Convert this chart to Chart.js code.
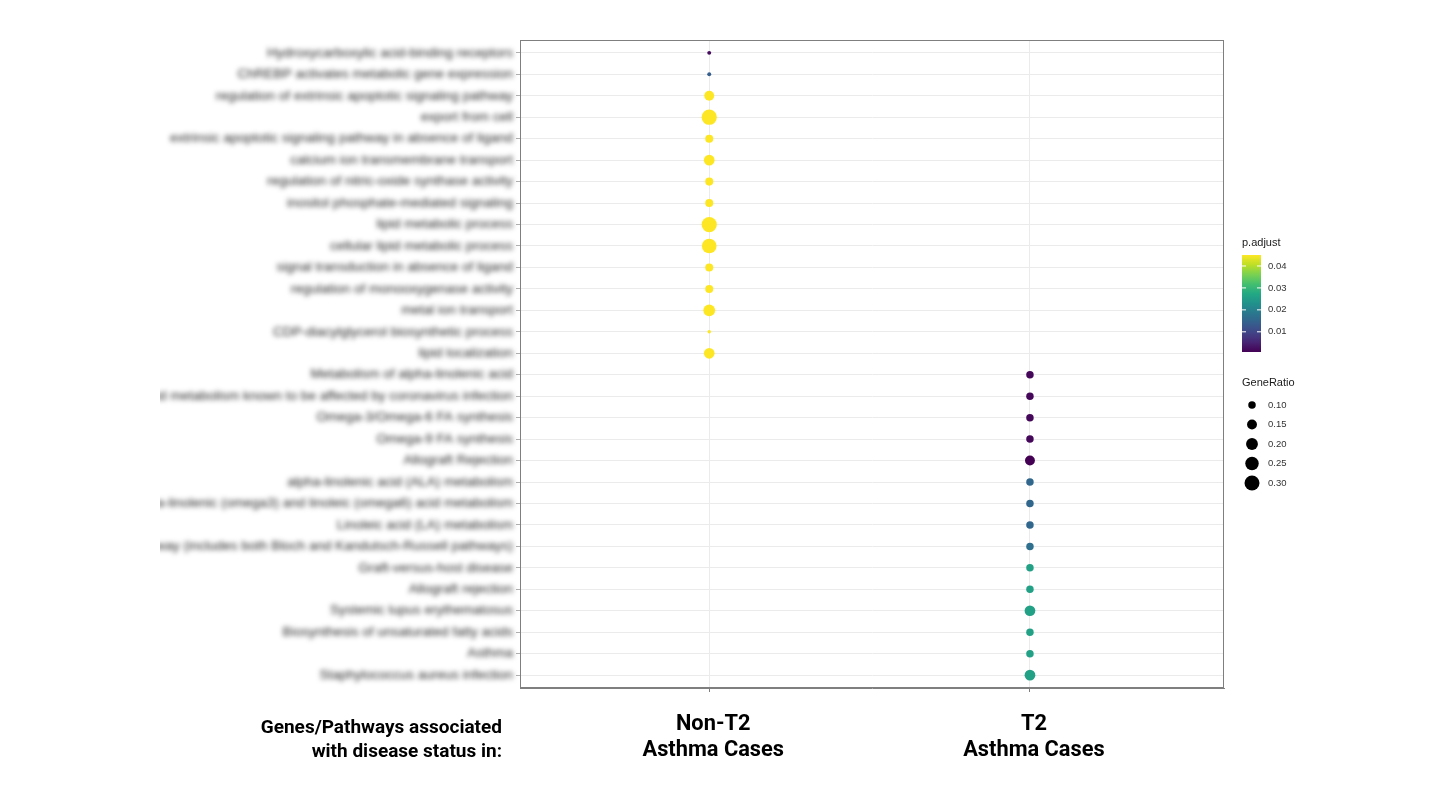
<!DOCTYPE html>
<html>
<head>
<meta charset="utf-8">
<script src="https://cdn.jsdelivr.net/npm/chart.js@4.4.1/dist/chart.umd.min.js"></script>
<style>
  html, body { margin: 0; padding: 0; background: #fff; overflow: hidden; }
  #wrap { position: absolute; left: 160px; top: 0; width: 1280px; height: 810px; }
</style>
</head>
<body>
<div id="wrap"><canvas id="dotChart"></canvas></div>
<script>
// pathways, top to bottom
const nonT2Terms = [
    'Hydroxycarboxylic acid-binding receptors',
    'ChREBP activates metabolic gene expression',
    'regulation of extrinsic apoptotic signaling pathway',
    'export from cell',
    'extrinsic apoptotic signaling pathway in absence of ligand',
    'calcium ion transmembrane transport',
    'regulation of nitric-oxide synthase activity',
    'inositol phosphate-mediated signaling',
    'lipid metabolic process',
    'cellular lipid metabolic process',
    'signal transduction in absence of ligand',
    'regulation of monooxygenase activity',
    'metal ion transport',
    'CDP-diacylglycerol biosynthetic process',
    'lipid localization'
];
const t2Terms = [
    'Metabolism of alpha-linolenic acid',
    'Lipid metabolism known to be affected by coronavirus infection',
    'Omega-3/Omega-6 FA synthesis',
    'Omega-9 FA synthesis',
    'Allograft Rejection',
    'alpha-linolenic acid (ALA) metabolism',
    'alpha-linolenic (omega3) and linoleic (omega6) acid metabolism',
    'Linoleic acid (LA) metabolism',
    'Cholesterol biosynthesis pathway (includes both Bloch and Kandutsch-Russell pathways)',
    'Graft-versus-host disease',
    'Allograft rejection',
    'Systemic lupus erythematosus',
    'Biosynthesis of unsaturated fatty acids',
    'Asthma',
    'Staphylococcus aureus infection'
];
const groups = [['Non-T2', 'Asthma Cases'], ['T2', 'Asthma Cases']];

const nonT2GeneRatio = [0.052, 0.052, 0.15, 0.31, 0.11, 0.17, 0.11, 0.11, 0.31, 0.29, 0.11, 0.11, 0.2, 0.048, 0.17];
const t2GeneRatio = [0.1, 0.1, 0.1, 0.1, 0.15, 0.1, 0.1, 0.1, 0.1, 0.1, 0.1, 0.17, 0.1, 0.1, 0.17];

const nonT2Padj = [0.002, 0.014, 0.045, 0.045, 0.045, 0.045, 0.045, 0.045, 0.045, 0.045, 0.045, 0.045, 0.045, 0.045, 0.045];
const t2Padj = [0.0015, 0.0015, 0.0015, 0.0015, 0.0008, 0.0155, 0.0155, 0.0155, 0.017, 0.026, 0.026, 0.026, 0.026, 0.026, 0.026];

const padjTicks = [0.01, 0.02, 0.03, 0.04];
const ratioTicks = [0.10, 0.15, 0.20, 0.25, 0.30];

const terms = nonT2Terms.concat(t2Terms);
const allPadj = nonT2Padj.concat(t2Padj);
const pMin = Math.min(...allPadj);
const pMax = Math.max(...allPadj);

const viridis = ['#440154', '#482475', '#414487', '#355f8d', '#2a788e', '#21918c',
    '#22a884', '#44bf70', '#7ad151', '#bddf26', '#fde725'];

function hexRgb(h) {
    return [parseInt(h.slice(1, 3), 16), parseInt(h.slice(3, 5), 16), parseInt(h.slice(5, 7), 16)];
}
function padjColor(p) {
    let t = (p - pMin) / (pMax - pMin);
    t = Math.max(0, Math.min(1, t)) * 10;
    const i = Math.min(9, Math.floor(t));
    const f = t - i;
    const a = hexRgb(viridis[i]), b = hexRgb(viridis[i + 1]);
    const c = a.map((v, k) => Math.round(v + (b[k] - v) * f));
    return 'rgb(' + c.join(',') + ')';
}
// size scale (area based, like ggplot)
function ratioRadius(v) {
    return Math.sqrt(Math.max(0.3, 210 * v - 7));
}

// y labels are blurred in the figure
class BlurLinearScale extends Chart.LinearScale {
    drawLabels(area) {
        const ctx = this.ctx;
        ctx.save();
        ctx.filter = 'blur(2.4px)';
        super.drawLabels(area);
        ctx.restore();
    }
}
BlurLinearScale.id = 'blurLinear';
BlurLinearScale.defaults = Chart.LinearScale.defaults;
Chart.register(BlurLinearScale);

const OFF = 160; // canvas offset on page

const extras = {
    id: 'extras',
    afterDraw(chart) {
        const ctx = chart.ctx;
        const a = chart.chartArea;
        ctx.save();
        // panel border
        ctx.strokeStyle = '#7f7f7f';
        ctx.lineWidth = 1;
        ctx.strokeRect(a.left + 0.5, a.top + 0.5, a.right - a.left - 1, a.bottom - a.top - 1);

        // left caption
        ctx.fillStyle = '#000';
        ctx.font = 'bold 19px Roboto';
        ctx.textAlign = 'right';
        ctx.textBaseline = 'middle';
        ctx.fillText('Genes/Pathways associated', 502 - OFF, 728);
        ctx.fillText('with disease status in:', 502 - OFF, 752);

        // colour bar legend
        const lx = 1242 - OFF;
        ctx.textAlign = 'left';
        ctx.fillStyle = '#1a1a1a';
        ctx.font = '11px "Liberation Sans"';
        ctx.fillText('p.adjust', lx, 243);
        const top = 255, bot = 352, w = 19;
        const g = ctx.createLinearGradient(0, bot, 0, top);
        viridis.forEach((c, i) => g.addColorStop(i / 10, c));
        ctx.fillStyle = g;
        ctx.fillRect(lx, top, w, bot - top);
        ctx.font = '9.5px "Liberation Sans"';
        padjTicks.forEach(p => {
            const y = bot - (p - pMin) / (pMax - pMin) * (bot - top);
            ctx.strokeStyle = '#fff';
            ctx.beginPath();
            ctx.moveTo(lx, y); ctx.lineTo(lx + 4, y);
            ctx.moveTo(lx + w - 4, y); ctx.lineTo(lx + w, y);
            ctx.stroke();
            ctx.fillStyle = '#333';
            ctx.fillText(p.toFixed(2), 1268 - OFF, y);
        });

        // size legend
        ctx.fillStyle = '#1a1a1a';
        ctx.font = '11px "Liberation Sans"';
        ctx.fillText('GeneRatio', lx, 383);
        ctx.font = '9.5px "Liberation Sans"';
        ratioTicks.forEach((v, i) => {
            const y = 405 + i * 19.5;
            ctx.fillStyle = '#000';
            ctx.beginPath();
            ctx.arc(1252 - OFF, y, ratioRadius(v), 0, Math.PI * 2);
            ctx.fill();
            ctx.fillStyle = '#333';
            ctx.fillText(v.toFixed(2), 1268 - OFF, y);
        });
        ctx.restore();
    }
};

function makeData(ratios, padj, groupIdx, offset) {
    return ratios.map((r, i) => ({ x: groupIdx + 1, y: offset + i + 1, r: r, p: padj[i] }));
}

new Chart(document.getElementById('dotChart'), {
    type: 'scatter',
    data: {
        datasets: [
            { label: 'Non-T2', data: makeData(nonT2GeneRatio, nonT2Padj, 0, 0) },
            { label: 'T2', data: makeData(t2GeneRatio, t2Padj, 1, nonT2Terms.length) }
        ]
    },
    options: {
        responsive: true,
        maintainAspectRatio: false,
        animation: false,
        layout: { padding: { top: 40, right: 216, left: 0, bottom: 0 } },
        elements: {
            point: {
                radius: c => ratioRadius(c.raw.r),
                backgroundColor: c => padjColor(c.raw.p),
                borderWidth: 0,
                hoverRadius: c => ratioRadius(c.raw.r)
            }
        },
        plugins: { legend: { display: false }, tooltip: { enabled: false } },
        scales: {
            x: {
                type: 'linear',
                min: 0.41,
                max: 2.605,
                afterBuildTicks: s => { s.ticks = groups.map((g, i) => ({ value: i + 1 })); },
                afterFit: s => { s.height = 122; },
                ticks: {
                    autoSkip: false,
                    maxRotation: 0,
                    padding: 19,
                    labelOffset: 4,
                    color: '#000',
                    font: { family: 'Roboto', size: 21.8, weight: 'bold', lineHeight: 1.2 },
                    callback: v => groups[Math.round(v) - 1]
                },
                grid: { color: '#ebebeb', lineWidth: 1, tickLength: 4, tickColor: '#7f7f7f' },
                border: { color: '#7f7f7f' }
            },
            y: {
                type: 'blurLinear',
                reverse: true,
                min: 0.4,
                max: 30.6,
                afterBuildTicks: s => { s.ticks = terms.map((t, i) => ({ value: i + 1 })); },
                afterFit: s => { s.width = 360; },
                ticks: {
                    autoSkip: false,
                    padding: 3,
                    color: '#262626',
                    font: { family: 'Liberation Sans', size: 13.5 },
                    callback: v => terms[Math.round(v) - 1]
                },
                grid: { color: '#ebebeb', lineWidth: 1, tickLength: 4, tickColor: '#b0b0b0' },
                border: { color: '#7f7f7f' }
            }
        }
    },
    plugins: [extras]
});
</script>
</body>
</html>
